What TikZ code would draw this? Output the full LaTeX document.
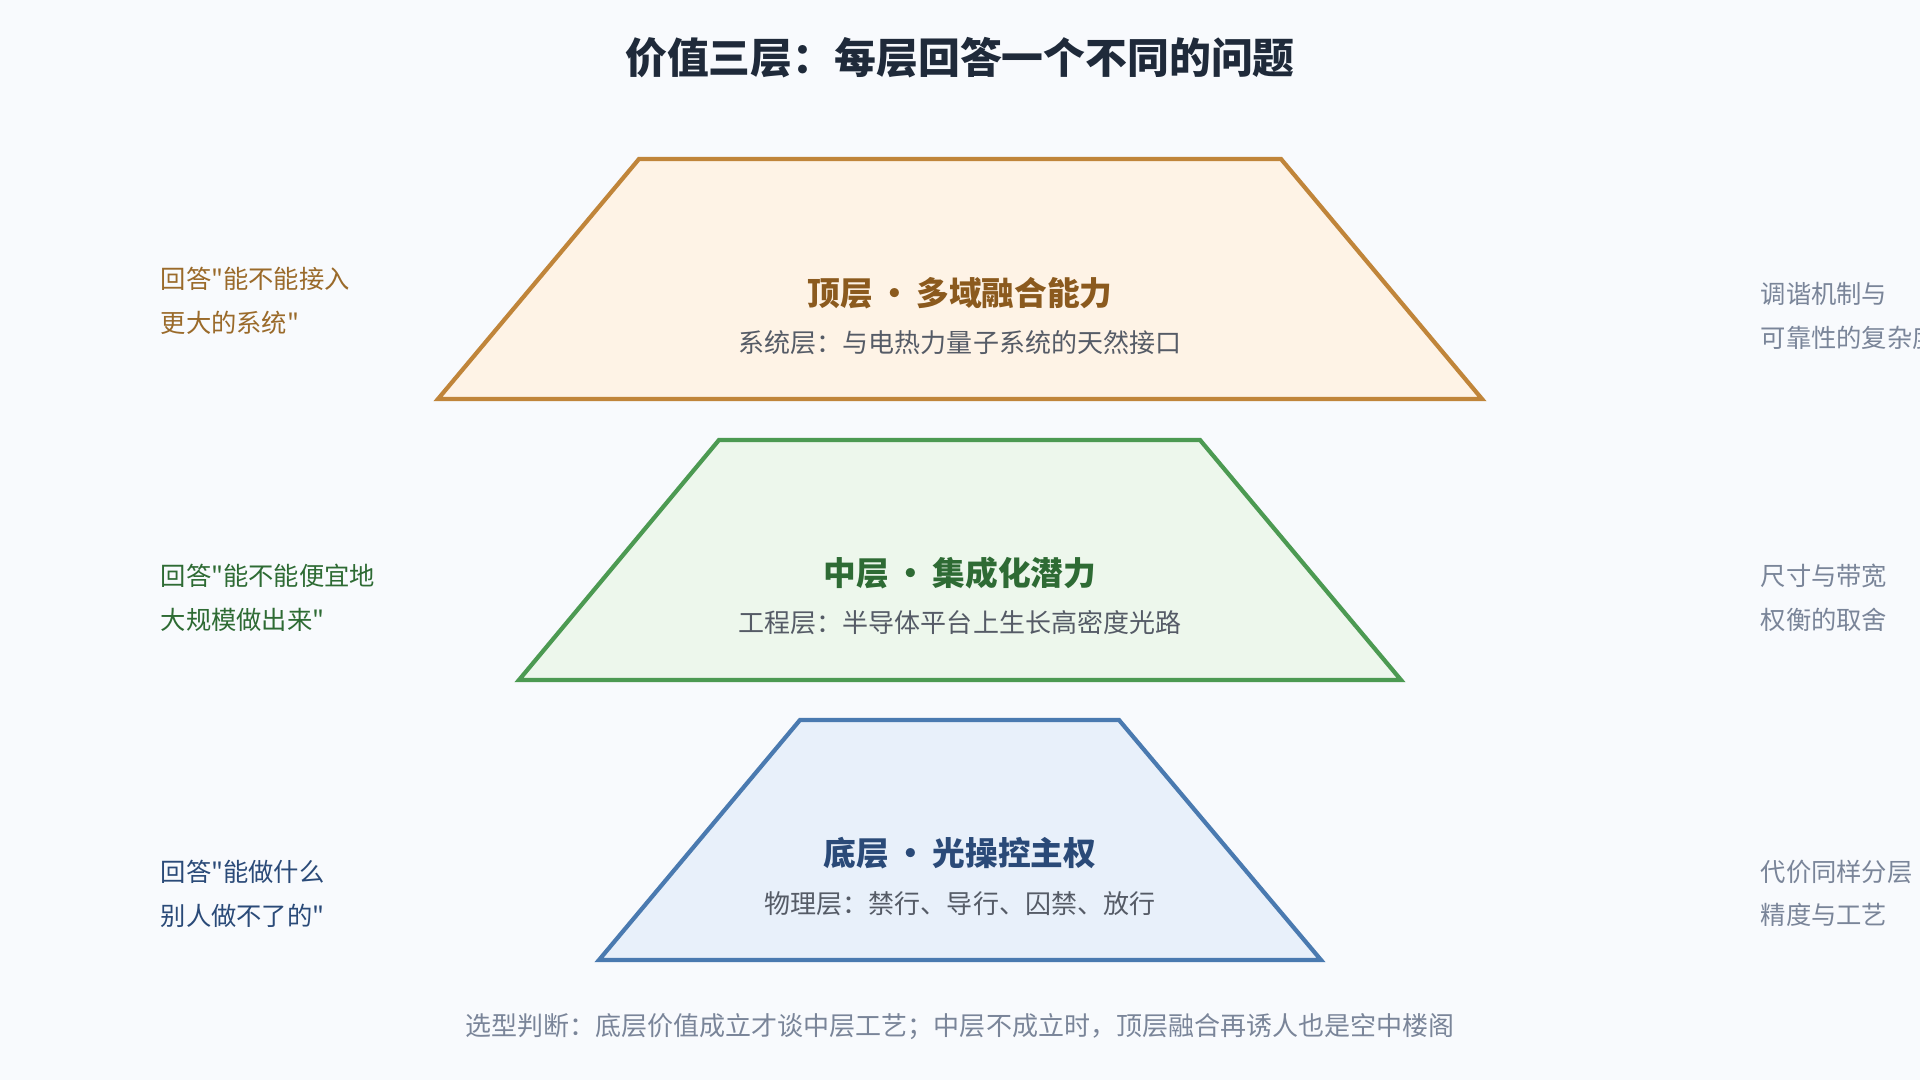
\documentclass[tikz,border=0pt]{standalone}
\usepackage{fontspec}
\newfontfamily\cjk{Noto Sans CJK SC}
\definecolor{bg}{HTML}{F8FAFD}
\definecolor{tfill}{HTML}{FEF3E6}\definecolor{tline}{HTML}{C0853A}\definecolor{thead}{HTML}{8B5A1E}\definecolor{tside}{HTML}{9A6A2A}
\definecolor{mfill}{HTML}{EDF7EC}\definecolor{mline}{HTML}{4C9A52}\definecolor{mhead}{HTML}{2E6B34}
\definecolor{bfill}{HTML}{E8F0FA}\definecolor{bline}{HTML}{4A7AB0}\definecolor{bhead}{HTML}{2A4A78}
\definecolor{sub}{HTML}{555B66}\definecolor{rgray}{HTML}{7A8599}\definecolor{title}{HTML}{1F2A3A}
\begin{document}
\begin{tikzpicture}[x=0.01cm,y=-0.01cm,
  trap/.style={line width=1.2pt,line join=miter},
  head/.style={font=\cjk\fontsize{9.3}{11}\selectfont\bfseries},
  subt/.style={font=\cjk\fontsize{7.4}{9}\selectfont,text=sub},
  side/.style={font=\cjk\fontsize{7.2}{12.5}\selectfont,align=left,anchor=north west,inner sep=0pt}]
\fill[bg] (0,0) rectangle (1920,1080);
\useasboundingbox (0,0) rectangle (1920,1080);
\node[font=\cjk\fontsize{11.9}{14}\selectfont\bfseries,text=title] (title) at (960,58) {价值三层：每层回答一个不同的问题};
% top
\draw[trap,draw=tline,fill=tfill] (639,159) -- (1281,159) -- (1482,399) -- (438,399) -- cycle;
\node[head,text=thead] (th) at (960,293) {顶层\,•\,多域融合能力};
\node[subt] (ts) at (960,343) {系统层：与电热力量子系统的天然接口};
% middle
\draw[trap,draw=mline,fill=mfill] (719,440) -- (1200,440) -- (1401,680) -- (519,680) -- cycle;
\node[head,text=mhead] (mh) at (960,573) {中层\,•\,集成化潜力};
\node[subt] (ms) at (960,623) {工程层：半导体平台上生长高密度光路};
% bottom
\draw[trap,draw=bline,fill=bfill] (800,720) -- (1119,720) -- (1321,960) -- (599,960) -- cycle;
\node[head,text=bhead] (bh) at (960,853) {底层\,•\,光操控主权};
\node[subt] (bs) at (960,904) {物理层：禁行、导行、囚禁、放行};
% left
\node[side,text=tside] (lt) at (160,266) {回答"能不能接入\\更大的系统"};
\node[side,text=mhead] (lm) at (160,563) {回答"能不能便宜地\\大规模做出来"};
\node[side,text=bhead] (lb) at (160,859) {回答"能做什么\\别人做不了的"};
% right
\node[side,text=rgray] (rt) at (1760,282) {调谐机制与\\可靠性的复杂度};
\node[side,text=rgray] (rm) at (1760,563) {尺寸与带宽\\权衡的取舍};
\node[side,text=rgray] (rb) at (1760,859) {代价同样分层\\精度与工艺};
\node[subt,text=rgray] (note) at (960,1027) {选型判断：底层价值成立才谈中层工艺；中层不成立时，顶层融合再诱人也是空中楼阁};
\end{tikzpicture}
\end{document}
